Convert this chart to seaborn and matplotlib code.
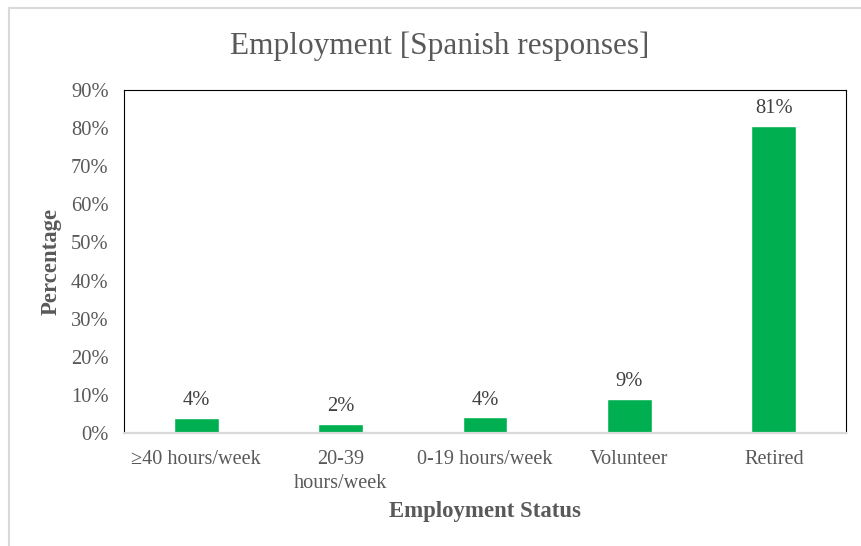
import matplotlib
matplotlib.use("Agg")
import matplotlib.pyplot as plt
import seaborn as sns
import pandas as pd
from matplotlib.lines import Line2D

categories = ["\u226540 hours/week", "20-39\nhours/week", "0-19 hours/week", "Volunteer", "Retired"]
percentages = [3.9, 2.4, 4.1, 8.9, 80.6]
y_ticks = [0, 10, 20, 30, 40, 50, 60, 70, 80, 90]

df = pd.DataFrame({"status": categories, "pct": percentages})

sns.set_theme(style="white")
plt.rcParams["font.family"] = ["Liberation Serif", "DejaVu Serif"]

W, H = 861, 546
fig = plt.figure(figsize=(W / 100, H / 100), dpi=100)
ax = fig.add_axes([124 / W, (H - 433) / H, 722 / W, 343 / H])

sns.barplot(data=df, x="status", y="pct", color="#00B050", width=0.31,
            saturation=1, ax=ax)

ax.set_ylim(0, 90)
ax.set_xlim(-0.5, len(categories) - 0.5)
ax.set_yticks(y_ticks)
ax.set_yticklabels([f"{t}%" for t in y_ticks], fontsize=14.8, color="#595959")
ax.set_xticks(range(len(categories)))
ax.set_xticklabels(categories, fontsize=14.6, color="#595959", linespacing=1.35)
ax.tick_params(axis="both", length=0)
ax.tick_params(axis="y", pad=11)
ax.tick_params(axis="x", pad=12)

for i, v in enumerate(percentages):
    ax.annotate(f"{v:.0f}%", (i, v), xytext=(0, 5.5), textcoords="offset points",
                ha="center", va="bottom", fontsize=14.8, color="#404040")

for side in ("left", "top", "right"):
    ax.spines[side].set_color("#000000")
    ax.spines[side].set_linewidth(0.8)
ax.spines["bottom"].set_color("#D9D9D9")
ax.spines["bottom"].set_linewidth(1.6)

ax.set_xlabel("Employment Status", fontsize=16.4, fontweight="bold", color="#595959")
ax.set_ylabel("Percentage", fontsize=16.4, fontweight="bold", color="#595959")
ax.xaxis.set_label_coords((485 - 124) / 722, -(512 - 433) / 343)
ax.xaxis.label.set_va("center")
ax.yaxis.set_label_coords(-(124 - 51) / 722, 0.5)
ax.yaxis.label.set_va("center")

fig.text(440 / W, 1 - 46 / H, "Employment [Spanish responses]", ha="center",
         va="center", fontsize=22.5, color="#595959")

# light outer frame (left and top edges)
fig.add_artist(Line2D([9 / W, 9 / W], [0, 1 - 8 / H], transform=fig.transFigure,
                      color="#D9D9D9", linewidth=1.5))
fig.add_artist(Line2D([9 / W, 1], [1 - 8 / H, 1 - 8 / H], transform=fig.transFigure,
                      color="#D9D9D9", linewidth=1.5))

fig.savefig("out.png", dpi=100, facecolor="white")
